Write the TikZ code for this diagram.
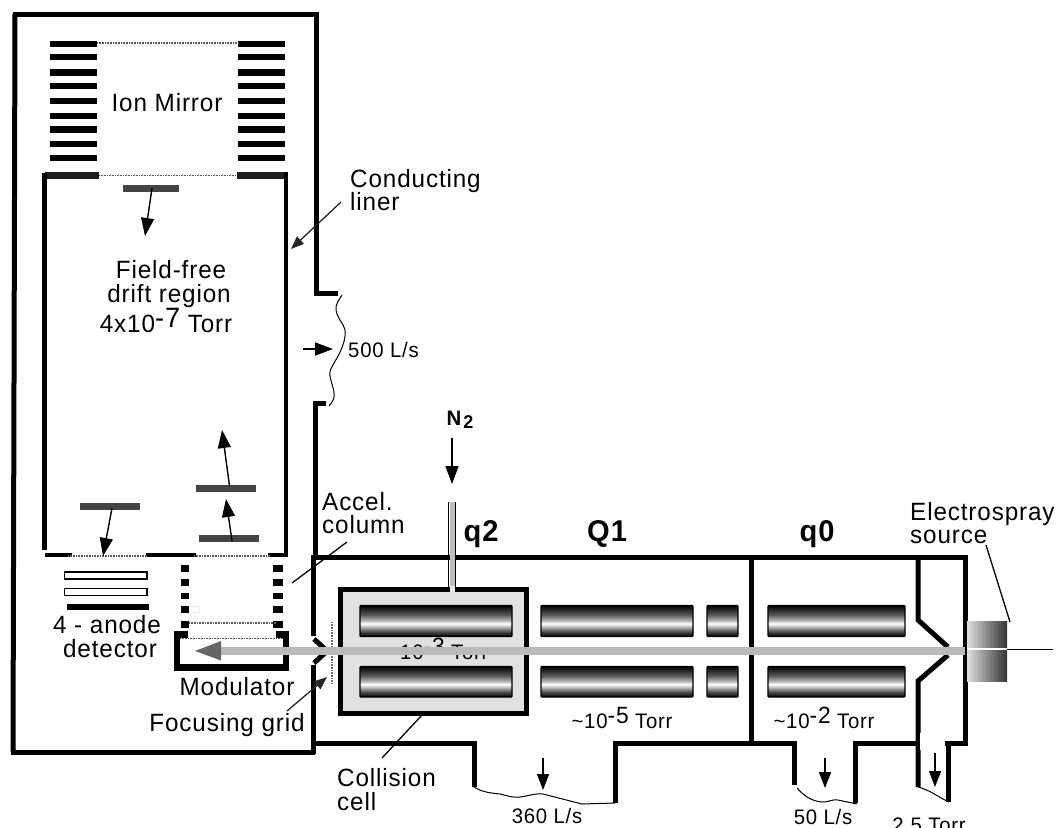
\documentclass[tikz,border=0pt]{standalone}
\usepackage{fontspec}
\setmainfont[LetterSpace=3.5,FakeStretch=0.97]{Liberation Sans}
\usetikzlibrary{arrows.meta}
\pgfdeclareverticalshading{rodshade}{100bp}{color(0bp)=(black); color(25bp)=(black); color(33bp)=(black!70); color(42bp)=(black!20); color(46bp)=(white); color(50bp)=(black!25); color(60bp)=(black!65); color(75bp)=(black); color(100bp)=(black)}
\definecolor{beamgrey}{HTML}{B9BABC}
\definecolor{plategrey}{HTML}{444444}
\definecolor{cellgrey}{HTML}{E1E1E1}
\tikzset{
  wall/.style={line width=5pt,line join=miter,line cap=butt},
  liner/.style={line width=4.5pt,line join=miter},
  tiny grid/.style={line width=1.4pt,black!65,dash pattern=on 1pt off 0.6pt},
  bigtip/.style={-{Triangle[length=18pt,width=13pt]},line width=1.4pt},
  lead/.style={line width=1.3pt},
  leadtip/.style={-{Triangle[length=13pt,width=10pt]},line width=1.3pt,black!85},
  wavy/.style={line width=1pt},
  lab/.style={anchor=base,inner sep=0pt,font=\fontsize{25}{25}\selectfont},
  labl/.style={anchor=base west,inner sep=0pt,font=\fontsize{25}{25}\selectfont},
  small/.style={anchor=base,inner sep=0pt,font=\fontsize{21}{21}\selectfont},
  boldlab/.style={anchor=base,inner sep=0pt,font=\fontsize{30}{30}\selectfont\bfseries},
  rod/.style={shading=rodshade,draw=black,line width=1.4pt,rounded corners=0.8pt},
  plate/.style={fill=plategrey,draw=none},
  blk/.style={fill=black,draw=none}
}
\newcommand{\supr}[1]{\raisebox{0.2em}{\fontsize{1.12em}{1em}\selectfont #1}}
\begin{document}
\begin{tikzpicture}[x=1pt,y=-1pt]
\useasboundingbox (0,0) rectangle (1057,827);
\clip (0,0) rectangle (1057,827);
% outer TOF housing
\draw[wall] (15,14) -- (13,752);
\draw[wall] (12.5,14) -- (318,14);
\draw[wall] (316,12) -- (316,293) -- (338,293);
\draw[wall] (326,403) -- (315.5,403) -- (315.5,557);
\draw[wall] (10.5,752) -- (315,752);
\draw[wall] (313.5,555) -- (313.5,636);
\draw[wall] (313.5,665) -- (313.5,754);
\draw[line width=5pt] (314,639) -- (326,650);
\draw[line width=5pt] (326,652) -- (314,663);
% mirror
\foreach \yy in {44,57,72.5,86,101,116,129.3,144,158}{
  \fill[blk] (50,\yy-3.3) rectangle (97,\yy+3.3);
  \fill[blk] (238,\yy-3.3) rectangle (284.5,\yy+3.3);
}
\draw[tiny grid] (97,43) -- (239,43);
\draw[tiny grid] (99,175.5) -- (237,175.5);
\fill[black!88] (47,172) rectangle (99,179);
\fill[black!88] (237,172) rectangle (285,179);
% liner
\draw[liner] (44.5,173) -- (44.5,550);
\draw[liner] (47,174) -- (44.5,174);
\draw[liner] (286,172) -- (286,557);
\draw[line width=4pt] (45,555) -- (72,555);
\draw[line width=4pt] (146,555) -- (196,555);
\draw[line width=4pt] (268,555) -- (288,555);
\draw[tiny grid] (68,556) -- (148,556);
\draw[tiny grid] (194,556) -- (270,556);
% ion packets
\fill[plate] (123,185) rectangle (179,192);
\fill[plate] (196,485) rectangle (256,492);
\fill[plate] (199,535) rectangle (259,542);
\fill[plate] (80,503) rectangle (140,510);
\draw[bigtip] (152,188) -- (145,236);
\draw[bigtip] (229.5,486) -- (222,430);
\draw[bigtip] (232,541) -- (226,499);
\draw[bigtip] (112,508) -- (103,556);
% detector
\draw[line width=1.6pt] (64.5,572) rectangle (147,579);
\draw[line width=1.6pt] (64.5,588.5) rectangle (147,595.5);
\fill[blk] (67,604) rectangle (149,610);
% accel column
\foreach \ya/\yb in {565/572,579/586,592.5/599,606/612.5,621/627.5}{
  \fill[blk] (181,\ya) rectangle (189,\yb);
  \fill[blk] (273,\ya) rectangle (283,\yb);
}
\draw[black!7,line width=0.7pt] (189.5,606) -- (199,606) -- (199,612.5) -- (189.5,612.5);
\draw[tiny grid] (189,623) -- (277,623);
% modulator
\draw[line width=6.5pt,line join=miter] (188,634.5) -- (177,634.5) -- (177,667.5) -- (286,667.5) -- (286,634.5) -- (276,634.5);
\draw[tiny grid] (180,638.5) -- (283,638.5);
% q-section housing
\draw[wall] (313,557) -- (967.5,557);
\draw[wall] (965,555) -- (965,745.5);
\draw[wall] (311,743) -- (474,743) -- (474,787);
\draw[wall] (615,803) -- (615,743) -- (794,743) -- (794,785);
\draw[wall] (855,803) -- (855,743) -- (918,743);
\draw[wall] (751.5,560) -- (751.5,743);
% skimmer
\draw[wall] (918,560) -- (918,620) -- (948,647);
\draw[wall] (948,655) -- (918,681) -- (918,787);
\draw[wall] (945,743) -- (967,743);
\draw[wall] (948,745) -- (948,802);
\fill[white] (919.5,733) rectangle (923,750);
% collision cell
\draw[wall,fill=cellgrey] (340.5,589.5) rectangle (526,713);
\fill[cellgrey] (449.5,586) rectangle (454.5,592);
\draw[line width=1.5pt] (448.5,502) -- (448.5,587);
\draw[line width=1.5pt] (455.5,502) -- (455.5,587);
\fill[black!25] (449.5,502) rectangle (454.5,586);
\fill[white!90!black] (449.5,586) rectangle (454.5,592);
% rods
\shade[rod] (360,605.5) rectangle (512,636.5);
\shade[rod] (360,666.5) rectangle (512,697);
\shade[rod] (541,605.5) rectangle (693,636.5);
\shade[rod] (541,666.5) rectangle (693,697);
\shade[rod] (707,605.5) rectangle (738,636.5);
\shade[rod] (707,666.5) rectangle (738,697);
\shade[rod] (768,605.5) rectangle (905,636.5);
\shade[rod] (768,666.5) rectangle (905,697);
% focusing grid
\draw[line width=1.2pt,black!55,dash pattern=on 0.8pt off 0.8pt] (332,622) -- (332,683);
% source
\shade[left color=black!12,right color=black!80] (967,621) rectangle (1007,681);
\draw[white,line width=1.2pt] (967,649) -- (1007,649);
\draw[line width=1pt] (1007,649) -- (1053,649);
% hidden pressure label
\node[small] (p3) at (438,659) {\textasciitilde10\supr{-3} Torr};
% beam
\fill[beamgrey] (219,647) rectangle (965,655);
\fill[black!60] (195,651) -- (221,641) -- (221,660.5) -- cycle;
% pump curves
\draw[wavy] (342,295) .. controls (339,300) and (335,305) .. (336,310) .. controls (337,318) and (344,324) .. (345,330) .. controls (346,338) and (343,345) .. (341,350) .. controls (338,358) and (331,366) .. (330,372) .. controls (329,380) and (335,388) .. (334,397) .. controls (333,402) and (331,403) .. (329,406);
\draw[wavy] (474,787) .. controls (482,792) and (490,793) .. (500,794) .. controls (508,796) and (514,798) .. (520,797) .. controls (528,796) and (536,793) .. (543,794) -- (582,804) -- (615,803);
\draw[wavy] (797,788) .. controls (805,797) and (812,801) .. (822,802) .. controls (830,802) and (832,799) .. (838,800) -- (857,804);
\draw[wavy] (918,787) .. controls (930,790) and (938,797) .. (949,802);
% arrows
\node[anchor=base west,inner sep=0pt] (n2) at (446.5,425) {\bfseries\fontsize{21}{21}\selectfont N\hspace{2pt}\raisebox{-3pt}{\fontsize{18.5}{19}\selectfont 2}};
\draw[bigtip] (452,438) -- (452,484);
\draw[bigtip] (303,349) -- (333,349);
\draw[-{Triangle[length=16pt,width=12pt]},line width=1.4pt] (543,758) -- (543,790);
\draw[-{Triangle[length=16pt,width=12pt]},line width=1.4pt] (825,758) -- (825,788);
\draw[-{Triangle[length=16pt,width=12pt]},line width=1.4pt] (935,753) -- (935,787);
% leader lines
\draw[leadtip] (341,202) -- (291,249);
\draw[leadtip] (287,711) -- (327,677);
\draw[lead] (347,542) -- (292,583);
\draw[lead] (422,715) -- (382,758);
\draw[lead] (986,545) -- (1010,622);
% labels
\node[lab] (ion) at (167,111) {Ion Mirror};
\node[lab] (ff) at (171,278) {Field-free};
\node[lab] (dr) at (169,302) {drift region};
\node[lab] (p7) at (166,332) {4x10\supr{-7} Torr};
\node[labl] (cond) at (350,187) {Conducting};
\node[labl] (lin) at (350,210) {liner};
\node[small,anchor=base west] (s500) at (348,357) {500 L/s};
\node[labl] (acc) at (322,510) {Accel.};
\node[labl] (col) at (322,533) {column};
\node[lab] (an) at (107,633) {4 - anode};
\node[lab] (det) at (110,657) {detector};
\node[lab] (mod) at (237,695) {Modulator};
\node[lab] (foc) at (227,731) {Focusing grid};
\node[labl] (cc) at (337,786) {Collision};
\node[labl] (ce) at (337,810) {cell};
\node[boldlab] (q2) at (481,541) {q2};
\node[boldlab] (q1) at (607,541) {Q1};
\node[boldlab] (q0) at (817,541) {q0};
\node[labl] (es) at (910,520) {Electrospray};
\node[labl] (so) at (910,543) {source};
\node[small] (p5) at (622,728) {\textasciitilde10\supr{-5} Torr};
\node[small] (p2) at (824,728) {\textasciitilde10\supr{-2} Torr};
\node[small] (s360) at (547,823) {360 L/s};
\node[small] (s50) at (823,824) {50 L/s};
\node[small] (p25) at (929,832) {2.5 Torr};
\end{tikzpicture}
\end{document}
